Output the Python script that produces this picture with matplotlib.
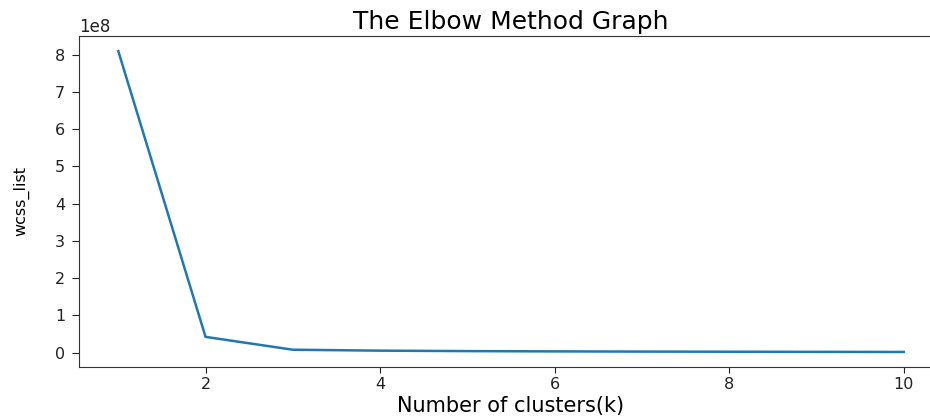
import matplotlib
matplotlib.use("Agg")
import matplotlib.pyplot as plt

# Data
k_values = [1, 2, 3, 4, 5, 6, 7, 8, 9, 10]
wcss_list = [8.10e8, 4.2e7, 7.5e6, 5.0e6, 3.8e6, 3.0e6, 2.5e6, 2.1e6, 1.8e6, 1.5e6]
x_ticks = [2, 4, 6, 8, 10]
y_ticks = [0, 1e8, 2e8, 3e8, 4e8, 5e8, 6e8, 7e8, 8e8]

W, H = 930, 417
fig = plt.figure(figsize=(W / 100, H / 100), dpi=100)
# axes spans px 79..943 (right spine cropped off), top 36, bottom 367
left, right, top, bottom = 79, 943, 36, 367
ax = fig.add_axes([left / W, 1 - bottom / H, (right - left) / W, (bottom - top) / H])

ax.plot(k_values, wcss_list, color="#1f77b4", linewidth=1.8)

ax.set_xticks(x_ticks)
ax.set_yticks(y_ticks)
ax.tick_params(axis="both", labelsize=11.5, colors="#222222", labelcolor="#222222")
ax.tick_params(axis="x", length=4, pad=3)
ax.tick_params(axis="y", length=5, pad=5)
ax.yaxis.get_offset_text().set_fontsize(12)

ax.set_title("The Elbow Method Graph", fontsize=18, pad=5)
ax.set_xlabel("Number of clusters(k)", fontsize=15)
ax.xaxis.set_label_coords(0.5, -0.088)
ax.set_ylabel("wcss_list", fontsize=11.5)
ax.yaxis.set_label_coords(-0.057, 0.5)

for s in ax.spines.values():
    s.set_color("#333333")

fig.savefig("out.png", dpi=100)
